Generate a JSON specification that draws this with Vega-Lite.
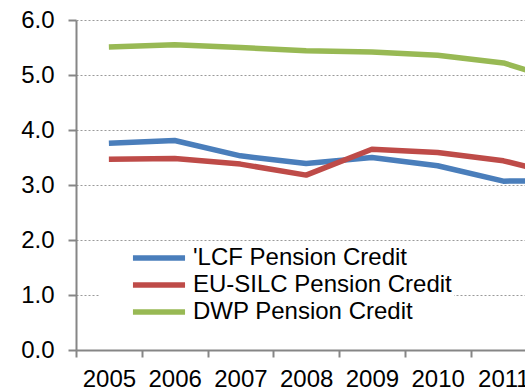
{
  "$schema": "https://vega.github.io/schema/vega-lite/v6.json",
  "autosize": "none",
  "padding": {"left": 76, "top": 20, "right": 0, "bottom": 41},
  "width": 526,
  "height": 330,
  "background": "white",
  "config": {
    "view": {"stroke": null},
    "font": "Liberation Sans"
  },
  "data": {
    "values": [
      {"year": "2005", "series": "'LCF Pension Credit", "value": 3.76},
      {"year": "2006", "series": "'LCF Pension Credit", "value": 3.81},
      {"year": "2007", "series": "'LCF Pension Credit", "value": 3.53},
      {"year": "2008", "series": "'LCF Pension Credit", "value": 3.39},
      {"year": "2009", "series": "'LCF Pension Credit", "value": 3.50},
      {"year": "2010", "series": "'LCF Pension Credit", "value": 3.35},
      {"year": "2011", "series": "'LCF Pension Credit", "value": 3.07},
      {"year": "2012", "series": "'LCF Pension Credit", "value": 3.08},
      {"year": "2005", "series": "EU-SILC Pension Credit", "value": 3.47},
      {"year": "2006", "series": "EU-SILC Pension Credit", "value": 3.48},
      {"year": "2007", "series": "EU-SILC Pension Credit", "value": 3.38},
      {"year": "2008", "series": "EU-SILC Pension Credit", "value": 3.18},
      {"year": "2009", "series": "EU-SILC Pension Credit", "value": 3.65},
      {"year": "2010", "series": "EU-SILC Pension Credit", "value": 3.59},
      {"year": "2011", "series": "EU-SILC Pension Credit", "value": 3.44},
      {"year": "2012", "series": "EU-SILC Pension Credit", "value": 3.15},
      {"year": "2005", "series": "DWP Pension Credit", "value": 5.51},
      {"year": "2006", "series": "DWP Pension Credit", "value": 5.55},
      {"year": "2007", "series": "DWP Pension Credit", "value": 5.50},
      {"year": "2008", "series": "DWP Pension Credit", "value": 5.44},
      {"year": "2009", "series": "DWP Pension Credit", "value": 5.42},
      {"year": "2010", "series": "DWP Pension Credit", "value": 5.36},
      {"year": "2011", "series": "DWP Pension Credit", "value": 5.22},
      {"year": "2012", "series": "DWP Pension Credit", "value": 4.85}
    ]
  },
  "mark": {"type": "line", "strokeWidth": 5.5, "strokeCap": "butt", "strokeJoin": "round"},
  "encoding": {
    "x": {
      "field": "year",
      "type": "ordinal",
      "bandPosition": 0.5,
      "scale": {"type": "band", "paddingInner": 0, "paddingOuter": 0},
      "axis": {
        "title": null,
        "labelAngle": 0,
        "labelFontSize": 24,
        "labelColor": "black",
        "labelPadding": 10,
        "labelOverlap": false,
        "tickBand": "extent",
        "tickSize": 7,
        "tickColor": "#868686",
        "tickWidth": 2,
        "domainColor": "#868686",
        "domainWidth": 2,
        "grid": false
      }
    },
    "y": {
      "field": "value",
      "type": "quantitative",
      "scale": {"domain": [0, 6], "nice": false, "zero": true},
      "axis": {
        "title": null,
        "values": [0, 1, 2, 3, 4, 5, 6],
        "format": ".1f",
        "labelFontSize": 24,
        "labelColor": "black",
        "labelPadding": 14,
        "tickSize": 8,
        "tickColor": "#868686",
        "tickWidth": 2,
        "domainColor": "#868686",
        "domainWidth": 2,
        "grid": true,
        "gridColor": "#9a9a9a",
        "gridDash": [2, 2],
        "gridWidth": 1
      }
    },
    "color": {
      "field": "series",
      "type": "nominal",
      "sort": ["'LCF Pension Credit", "EU-SILC Pension Credit", "DWP Pension Credit"],
      "scale": {
        "domain": ["'LCF Pension Credit", "EU-SILC Pension Credit", "DWP Pension Credit"],
        "range": ["#4a7ebb", "#be4b48", "#98b954"]
      },
      "legend": {
        "title": null,
        "orient": "none",
        "legendX": 24,
        "legendY": 221,
        "padding": 2,
        "fillColor": "white",
        "symbolType": "M-2.17,0H2.17",
        "symbolSize": 576,
        "symbolStrokeWidth": 5.5,
        "symbolOffset": 42,
        "labelOffset": 19,
        "labelFontSize": 24,
        "labelColor": "black",
        "labelLimit": 400,
        "rowPadding": 0
      }
    }
  }
}
